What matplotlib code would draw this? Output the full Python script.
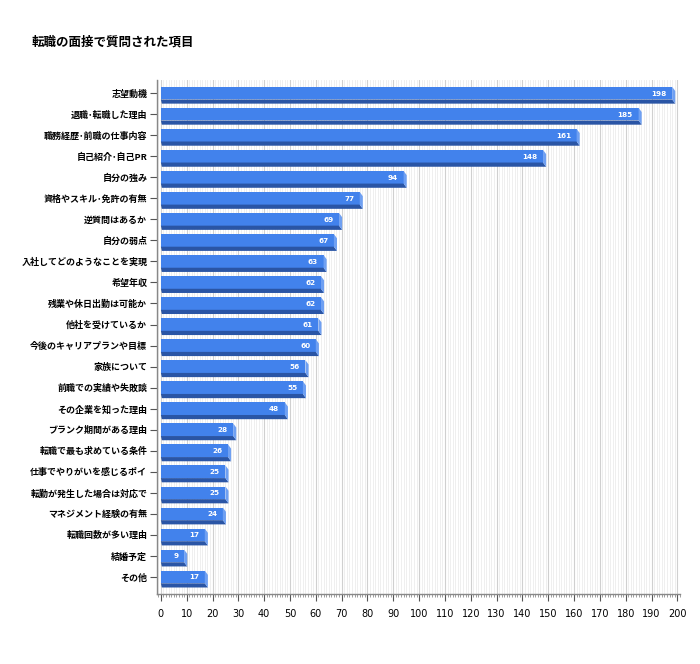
import matplotlib
matplotlib.use("Agg")
import matplotlib.pyplot as plt
from matplotlib.patches import Polygon
from matplotlib.ticker import MultipleLocator

plt.rcParams['font.family'] = ['Noto Sans CJK JP', 'DejaVu Sans']

labels = ['志望動機', '退職･転職した理由', '職務経歴･前職の仕事内容', '自己紹介･自己PR',
          '自分の強み', '資格やスキル･免許の有無', '逆質問はあるか', '自分の弱点',
          '入社してどのようなことを実現', '希望年収', '残業や休日出勤は可能か',
          '他社を受けているか', '今後のキャリアプランや目標', '家族について',
          '前職での実績や失敗談', 'その企業を知った理由', 'ブランク期間がある理由',
          '転職で最も求めている条件', '仕事でやりがいを感じるポイ', '転勤が発生した場合は対応で',
          'マネジメント経験の有無', '転職回数が多い理由', '結婚予定', 'その他']
values = [198, 185, 161, 148, 94, 77, 69, 67, 63, 62, 62, 61, 60, 56, 55, 48,
          28, 26, 25, 25, 24, 17, 9, 17]

face = '#4282ec'
shade = '#2a55a5'
side = '#6fa0f2'

fig = plt.figure(figsize=(7, 6.64), dpi=100)
ax = fig.add_axes([0.2243, 0.1054, 0.747, 0.774])

h = 0.6     # bar face height
dx = 1.2    # depth offset in x
dy = 0.2    # depth offset in y
ypos = list(range(len(values)))

ax.barh(ypos, values, height=h, color=face, zorder=3)
for y, v in zip(ypos, values):
    yt = y - h / 2
    yb = y + h / 2
    ax.add_patch(Polygon([(0, yb), (v, yb), (v + dx, yb + dy), (dx * 0.3, yb + dy)],
                         closed=True, color=shade, zorder=3, lw=0))
    ax.add_patch(Polygon([(v, yt), (v + dx, yt + dy), (v + dx, yb + dy), (v, yb)],
                         closed=True, color=side, zorder=3, lw=0))
    ax.text(v - 2.2, y + 0.02, str(v), color='white', fontsize=5.2, fontweight='bold',
            ha='right', va='center', zorder=4, family=['DejaVu Sans'])

ax.set_xlim(-1.5, 201)
ax.set_ylim(len(values) - 1 + 0.81, -0.62)
ax.set_yticks(ypos)
ax.set_yticklabels(labels, fontsize=6.5, fontweight='bold')
ax.xaxis.set_major_locator(MultipleLocator(10))
ax.xaxis.set_minor_locator(MultipleLocator(1))
ax.grid(axis='x', which='major', color='#d0d0d0', lw=0.8, zorder=0)
ax.grid(axis='x', which='minor', color='#ececec', lw=0.6, zorder=0)
ax.set_axisbelow(True)
ax.tick_params(axis='x', which='major', length=5, width=0.8, color='#555555',
               labelsize=7, pad=6)
ax.tick_params(axis='x', which='minor', length=2, width=0.5, color='#777777')
ax.tick_params(axis='y', length=5, width=0.8, color='#555555', pad=2)
for t in ax.get_xticklabels():
    t.set_family(['DejaVu Sans'])
for s in ['top', 'right']:
    ax.spines[s].set_visible(False)
for s in ['left', 'bottom']:
    ax.spines[s].set_color('#888888')
    ax.spines[s].set_linewidth(1.0)

fig.text(32 / 700, 1 - 42 / 664, '転職の面接で質問された項目', fontsize=9,
         fontweight='bold', va='center', ha='left')

fig.savefig('out.png', dpi=100)
